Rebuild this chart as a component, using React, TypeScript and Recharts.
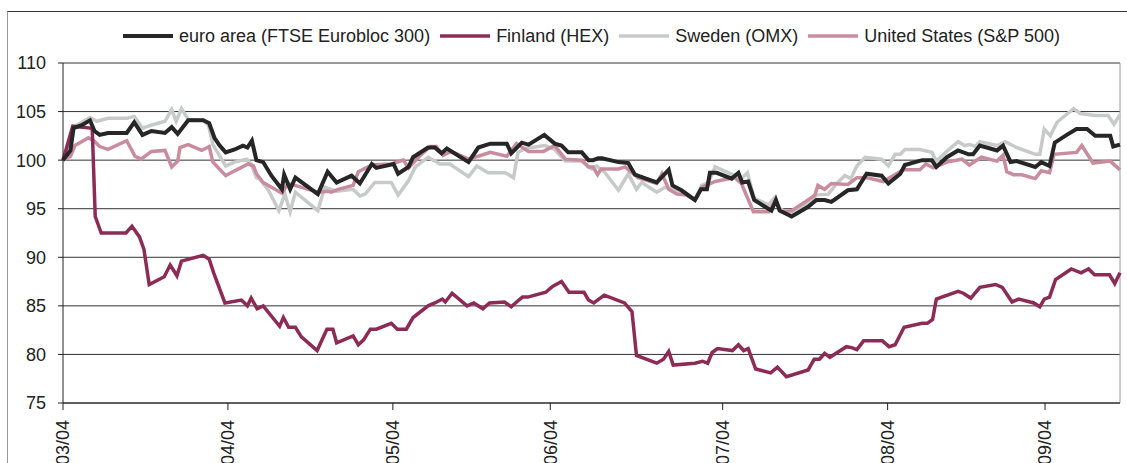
import { LineChart, Line, XAxis, YAxis, CartesianGrid, Legend, ReferenceLine } from 'recharts'

// x = trading day since start, y = index (start = 100)
const euroArea: [number, number][] = [
  [0, 100], [1, 101], [1.4, 103.3], [2.5, 103.6], [3.6, 104.1], [4.2, 103], [4.9, 102.6], [6, 102.8], [8.5, 102.8],
  [9.5, 103.9], [10.6, 102.6], [11.8, 103], [13.6, 102.8], [14.5, 103.4], [15.3, 102.7], [16.7, 104.1], [18.7, 104.1],
  [19.5, 103.8], [20.2, 102.3], [20.9, 101.5], [21.7, 100.8], [22.9, 101.1], [24, 101.5], [24.6, 101.3], [25.2, 102],
  [25.8, 100], [26.7, 99.8], [27.8, 98.4], [29.2, 97], [29.5, 98.5], [30.3, 97], [31, 98.2], [34, 96.5], [35.3, 98.8],
  [36.5, 97.7], [38.5, 98.4], [39.6, 97.6], [41.2, 99.6], [41.8, 99.2], [44.1, 99.6], [44.7, 98.6], [46.1, 99.3],
  [46.7, 100.3], [48.7, 101.3], [49.6, 101.3], [50.5, 100.7], [51.2, 101.2], [54.1, 99.8], [55.4, 101.3], [57, 101.7],
  [59.2, 101.7], [59.8, 100.7], [61.2, 101.8], [62.1, 101.6], [64.2, 102.6], [65.6, 101.7], [66.5, 101.5], [67.4, 100.8],
  [69.2, 100.8], [70.1, 100], [70.7, 100], [71.4, 100.2], [71.9, 100.2], [74.1, 99.8], [75.4, 99.7], [76.3, 98.5],
  [77.4, 98.2], [79.2, 97.7], [80.8, 99], [81.3, 97.4], [82.5, 96.9], [84.3, 95.9], [85.1, 97], [85.9, 97], [86.3, 98.7],
  [87.2, 98.7], [89.2, 98.1], [90.1, 98.7], [90.6, 97.7], [91.4, 97.8], [92.2, 95.9], [94.5, 94.8], [95.1, 95.9],
  [95.6, 94.8], [97.2, 94.2], [99.4, 95.2], [100.5, 95.9], [101.6, 95.9], [102.5, 95.7], [104.7, 96.9], [105.9, 97],
  [107.2, 98.6], [109.2, 98.4], [110.1, 97.6], [111.7, 98.6], [112.3, 99.5], [114.6, 100], [115.9, 100], [116.5, 99.3],
  [117.9, 100.3], [119.4, 101], [120.8, 100.6], [121.4, 100.6], [122.3, 101.5], [124.6, 101], [125.4, 101.5],
  [126.4, 99.8], [127.2, 99.9], [129.7, 99.3], [130.5, 99.8], [131.6, 99.4], [132.3, 101.8], [133.9, 102.6],
  [135.2, 103.2], [136.6, 103.2], [137.7, 102.5], [139.7, 102.5], [140.1, 101.4], [141, 101.6],
]

const finland: [number, number][] = [
  [0, 100], [1.3, 103.5], [3.7, 103.3], [3.9, 103.2], [4.3, 94.2], [5.1, 92.5], [8.4, 92.5], [9.2, 93.2], [10.2, 92.1],
  [10.8, 90.8], [11.5, 87.2], [13.5, 88], [14.3, 89.2], [15.2, 88.1], [15.8, 89.6], [18.7, 90.2], [19.5, 89.8],
  [20.1, 88.4], [21.6, 85.3], [23.8, 85.6], [24.6, 85], [25.1, 85.8], [25.9, 84.7], [26.7, 85], [28.9, 82.9],
  [29.4, 83.8], [30.1, 82.8], [31, 82.8], [31.8, 81.8], [33.9, 80.4], [35.2, 82.6], [36, 82.6], [36.5, 81.2],
  [38.7, 81.9], [39.4, 81], [40.1, 81.5], [41, 82.6], [41.8, 82.6], [43.8, 83.2], [44.6, 82.6], [45.8, 82.6],
  [46.7, 83.8], [48.7, 85], [49.6, 85.3], [50.6, 85.7], [51, 85.4], [51.9, 86.3], [53.9, 85], [54.8, 85.3], [56, 84.7],
  [56.9, 85.3], [58.9, 85.4], [59.8, 84.9], [60.8, 85.6], [61.3, 85.9], [62, 85.9], [64.4, 86.4], [65.3, 87],
  [66.5, 87.5], [67.5, 86.4], [69.5, 86.4], [70.1, 85.6], [70.8, 85.3], [72.2, 86.1], [74.9, 85.3], [75.9, 84.4],
  [76.5, 79.9], [79.2, 79.1], [80.1, 79.5], [80.8, 80.3], [81.4, 78.9], [84.3, 79.1], [85.3, 79.3], [86, 79.1],
  [86.6, 80.2], [87.3, 80.6], [89.3, 80.4], [90.1, 81], [90.8, 80.4], [91.4, 80.6], [92.4, 78.5], [94.4, 78.1],
  [95.3, 78.7], [96.5, 77.7], [99.4, 78.4], [100.2, 79.5], [100.9, 79.5], [101.6, 80.1], [102.3, 79.7], [104.5, 80.8],
  [105.2, 80.7], [105.9, 80.5], [106.8, 81.4], [109.3, 81.4], [110.2, 80.8], [111, 81], [112.2, 82.8], [114.6, 83.2],
  [115.3, 83.2], [116, 83.6], [116.5, 85.7], [119.4, 86.5], [120.1, 86.3], [121.1, 85.8], [122.3, 86.9], [124.4, 87.2],
  [125.3, 86.9], [126.6, 85.4], [127.5, 85.7], [129.5, 85.3], [130.3, 84.9], [130.9, 85.7], [131.6, 85.9],
  [132.4, 87.7], [134.5, 88.8], [135.8, 88.4], [136.8, 88.8], [137.6, 88.2], [139.6, 88.2], [140.3, 87.3], [141, 88.4],
]

const sweden: [number, number][] = [
  [0, 100], [1, 101.6], [1.6, 103.5], [3.6, 104.4], [4.5, 104], [6, 104.3], [8.5, 104.3], [9.5, 104.5], [10.6, 103.3],
  [11.8, 103.6], [13.6, 104], [14.5, 105.2], [15.1, 104], [15.8, 105.3], [16.7, 104.2], [18.7, 104.1], [19.4, 103.6],
  [20, 101.6], [21.7, 99.4], [22.9, 99.8], [24.5, 100.1], [25.1, 99.6], [25.8, 98.2], [26.3, 98], [27.4, 96.9],
  [28.8, 94.8], [29.6, 96.5], [30.3, 94.7], [31, 96.7], [34, 94.8], [34.9, 97.2], [36.5, 96.8], [38.7, 97],
  [39.6, 96.3], [40.3, 96.5], [41.6, 97.7], [43.8, 97.7], [44.7, 96.4], [46.1, 97.9], [47, 99.3], [48.7, 100.3],
  [50.3, 99.6], [51.6, 99.6], [54.1, 98.3], [55.2, 99.4], [56.7, 98.7], [59, 98.7], [60.1, 98.2], [60.7, 100.8],
  [61.6, 101.2], [64.3, 101.5], [65.6, 101.1], [67, 99.9], [69.2, 99.9], [70.5, 99.1], [71.2, 99.4], [72.2, 98.8],
  [74.1, 96.9], [75.4, 98.6], [76.5, 97], [77.2, 97.7], [79.2, 96.7], [80.3, 97.2], [81.2, 97], [82.5, 96.7],
  [84.3, 95.9], [85.2, 97.4], [86.1, 97.7], [87, 99.3], [89.6, 98.4], [90.5, 98.1], [91.3, 98.7], [92.2, 96.1],
  [94.1, 95.4], [95, 96.2], [95.6, 95], [97, 94.5], [99.4, 95.5], [100.5, 96.4], [102.1, 96.5], [103.2, 97.6],
  [104.3, 98.4], [105.1, 98.1], [105.9, 99.4], [107, 100.3], [109.2, 100.1], [110.1, 99.4], [111, 100.6],
  [111.7, 100.6], [112.3, 101.1], [114.3, 101.1], [115.9, 100.8], [116.5, 99.9], [117.9, 100.9], [119.4, 101.9],
  [120.3, 101.5], [121, 101.6], [121.7, 101.4], [122.3, 101.9], [124.6, 101.5], [125.7, 101.9], [127.2, 101.3],
  [129.7, 100.6], [130.3, 100.6], [130.9, 103.2], [131.7, 102.5], [132.6, 103.9], [134.8, 105.3], [135.7, 104.8],
  [137.7, 104.6], [139.4, 104.6], [140.2, 103.7], [141, 104.7],
]

const unitedStates: [number, number][] = [
  [0, 100], [1, 100.4], [1.6, 101.5], [3.4, 102.3], [4.1, 102], [4.9, 101.4], [6, 101.1], [8.5, 102], [9.6, 100.4],
  [10.4, 100.1], [11.8, 100.9], [13.6, 101], [14.5, 99.3], [15.3, 99.9], [15.6, 101.3], [16.7, 101.6], [18.5, 101],
  [19.5, 101.4], [20, 99.8], [21.7, 98.4], [22.9, 98.9], [24.7, 99.6], [25.4, 99.4], [25.8, 98.6], [26.7, 97.7],
  [29.2, 96.6], [30, 97.6], [31.4, 97.3], [34, 96.7], [35.3, 96.8], [35.8, 96.7], [36.7, 97], [38.7, 97.4],
  [39.4, 98.8], [41.2, 99.5], [43.8, 99.6], [45.4, 100], [46.1, 99.2], [47.8, 100.6], [49, 101.4], [49.8, 101.4],
  [50.7, 100.5], [51.8, 100.9], [54.1, 100.1], [55.8, 100.5], [57, 100.8], [59.2, 100.4], [60.5, 101.7], [62.1, 100.9],
  [64.1, 100.9], [65.6, 101.5], [67, 100.1], [69.2, 100], [70.1, 99.3], [70.7, 99.3], [71.3, 98.5], [71.8, 99.1],
  [74.1, 99.1], [75, 99.3], [75.9, 98.7], [76.7, 98.2], [79.2, 97.6], [79.9, 98.6], [80.8, 97], [81.9, 96.5],
  [83.2, 96.4], [84.3, 95.9], [85.2, 97.2], [87, 97.8], [89.6, 98.2], [90.5, 97.6], [92.1, 94.7], [94.1, 94.7],
  [95, 95.8], [95.9, 94.7], [97.2, 94.8], [99, 95.7], [100.3, 96.4], [100.7, 97.4], [101.6, 97], [102.5, 97.6],
  [104.7, 97.5], [105.9, 98.2], [107.2, 98.2], [109.4, 97.8], [112.1, 99], [114.3, 99], [115.1, 99.6], [116.1, 99.2],
  [117.9, 99.8], [119.9, 100.1], [120.9, 99.5], [122.5, 100.3], [124.6, 99.9], [125.4, 100.5], [125.9, 98.8],
  [126.8, 98.5], [127.9, 98.5], [129.7, 98.1], [130.5, 98.9], [131.6, 98.7], [132.2, 100.6], [135.2, 100.8],
  [135.9, 101.5], [137.4, 99.7], [139.7, 99.9], [141, 99],
]

const monthTicks = [0, 22, 44, 65, 88, 110, 131]
const monthLabels = ['03/04', '04/04', '05/04', '06/04', '07/04', '08/04', '09/04']
const yTicks = [75, 80, 85, 90, 95, 100, 105, 110]

const FONT = '"Liberation Sans", Arial, sans-serif'
const FONT_SIZE = 18

const series = [
  { key: 'euro', name: 'euro area (FTSE Eurobloc 300)', data: euroArea, color: '#262626', width: 4 },
  { key: 'fin', name: 'Finland (HEX)', data: finland, color: '#8c2c56', width: 3.5 },
  { key: 'swe', name: 'Sweden (OMX)', data: sweden, color: '#c8caca', width: 3.5 },
  { key: 'us', name: 'United States (S&P 500)', data: unitedStates, color: '#c98c9f', width: 3.5 },
]

// drawing order: euro area on top
const drawOrder = ['swe', 'us', 'fin', 'euro']

const toRows = (pts: [number, number][]) => pts.map(([t, v]) => ({ t, v }))

function LegendContent() {
  return (
    <div style={{ display: 'flex', justifyContent: 'center', alignItems: 'center', fontFamily: FONT, fontSize: FONT_SIZE, color: '#222', lineHeight: '22px' }}>
      {series.map(s => (
        <div key={s.key} style={{ display: 'flex', alignItems: 'center', margin: '0 5px' }}>
          <svg width={50} height={8}>
            <line x1={0} x2={50} y1={4} y2={4} stroke={s.color} strokeWidth={s.width} />
          </svg>
          <span style={{ marginLeft: 6, whiteSpace: 'nowrap' }}>{s.name}</span>
        </div>
      ))}
    </div>
  )
}

function MonthTick({ x, y, payload }: any) {
  const i = monthTicks.indexOf(payload.value)
  return (
    <text x={x} y={y} dy="0.35em" textAnchor="end" transform={`rotate(-90, ${x}, ${y})`}
      fontFamily={FONT} fontSize={FONT_SIZE} fill="#222">
      {monthLabels[i]}
    </text>
  )
}

export default function App() {
  return (
    <div style={{ position: 'absolute', left: 0, top: 0, width: 1127, height: 463, overflow: 'hidden', background: '#fff' }}>
      <div style={{ position: 'absolute', left: 7, top: 11, width: 1200, height: 500, borderTop: '1px solid #333', borderLeft: '1px solid #9a9a9a' }} />
      <LineChart width={1127} height={463} margin={{ top: 63, right: 7, bottom: 10, left: 8 }}
        style={{ position: 'absolute', left: 0, top: 0 }}>
        <CartesianGrid horizontal vertical={false} stroke="#333" strokeOpacity={1} />
        <XAxis dataKey="t" type="number" domain={[0, 141]} ticks={monthTicks} interval={0}
          allowDuplicatedCategory={false} height={50} tickSize={7} tickMargin={10}
          stroke="#222" tick={<MonthTick />} />
        <YAxis type="number" domain={[75, 110]} ticks={yTicks} interval={0} width={55} tickSize={5} tickMargin={12}
          stroke="#222" tick={{ fontFamily: FONT, fontSize: FONT_SIZE, fill: '#222' }} />
        <ReferenceLine x={141} stroke="#9a9a9a" />
        <Legend layout="horizontal" verticalAlign="middle" align="center" content={<LegendContent />}
          wrapperStyle={{ top: 25, left: 63, width: 1057 }} />
        {drawOrder.map(k => {
          const s = series.find(x => x.key === k)!
          return (
            <Line key={s.key} data={toRows(s.data)} dataKey="v" name={s.name} type="linear" stroke={s.color}
              strokeWidth={s.width} dot={false} activeDot={false} isAnimationActive={false} strokeLinejoin="miter" />
          )
        })}
      </LineChart>
    </div>
  )
}
